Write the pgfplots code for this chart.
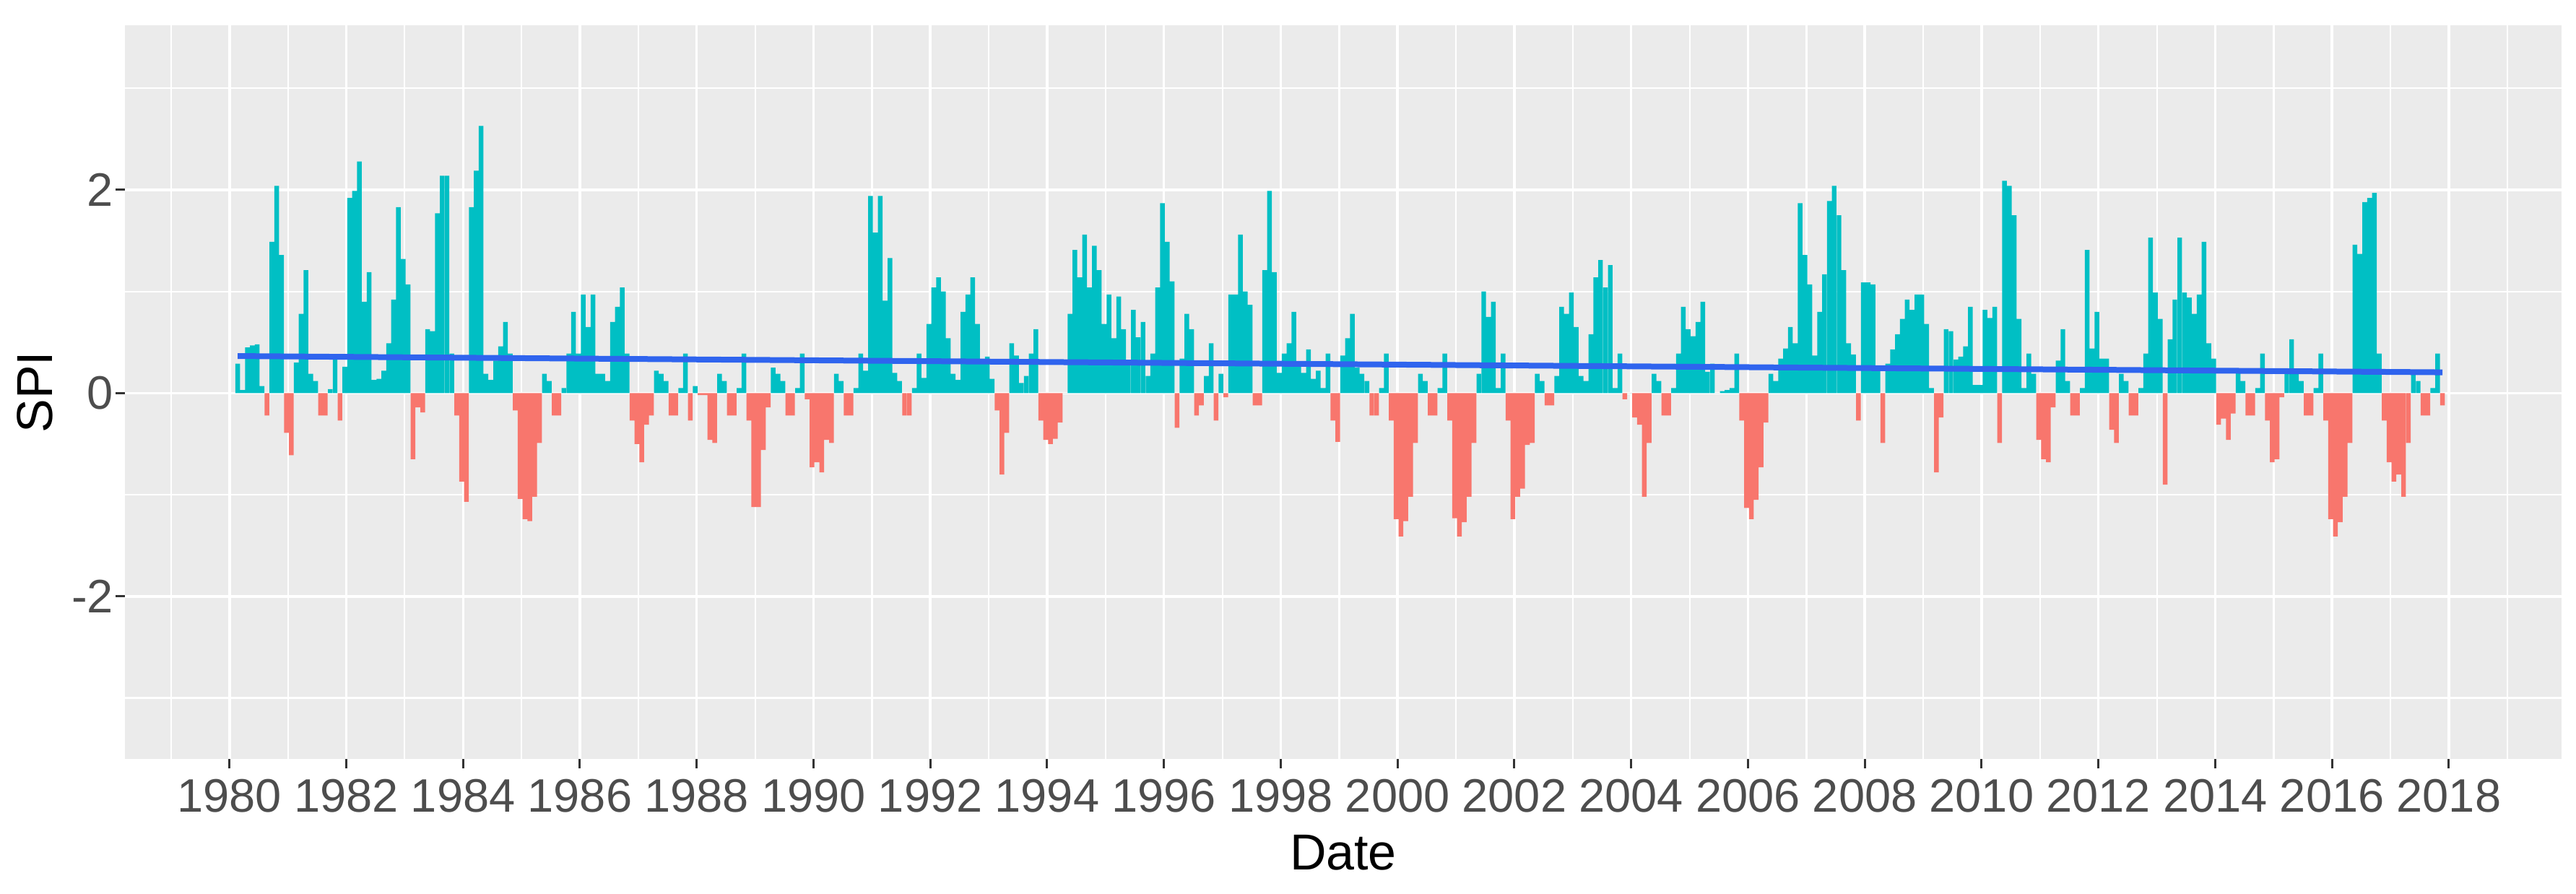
\documentclass[border=0pt]{standalone}
\usepackage{fontspec}
\setmainfont{Liberation Sans}
\usepackage{pgfplots}
\usepackage{pgfplotstable}
\pgfplotsset{compat=1.18}

\definecolor{ggpanel}{HTML}{EBEBEB}
\definecolor{ggpos}{HTML}{00BFC4}
\definecolor{ggneg}{HTML}{F8766D}
\definecolor{ggline}{HTML}{2F64EE}
\definecolor{ggtext}{HTML}{4D4D4D}
\definecolor{ggtick}{HTML}{333333}

% monthly SPI, first value = March 1980, one year of months per line
\pgfplotstableread[row sep=\\]{
spi\\
0.29\\ 0.03\\ 0.45\\ 0.47\\ 0.48\\ 0.07\\ -0.22\\ 1.49\\ 2.04\\ 1.36\\ -0.39\\ -0.61\\
0.30\\ 0.78\\ 1.21\\ 0.19\\ 0.12\\ -0.22\\ -0.22\\ 0.04\\ 0.34\\ -0.27\\ 0.26\\ 1.92\\
1.99\\ 2.28\\ 0.90\\ 1.19\\ 0.13\\ 0.14\\ 0.22\\ 0.49\\ 0.92\\ 1.83\\ 1.32\\ 1.07\\
-0.65\\ -0.14\\ -0.19\\ 0.63\\ 0.61\\ 1.77\\ 2.14\\ 2.14\\ 0.39\\ -0.22\\ -0.87\\ -1.07\\
1.83\\ 2.19\\ 2.63\\ 0.19\\ 0.13\\ 0.32\\ 0.46\\ 0.70\\ 0.39\\ -0.17\\ -1.04\\ -1.24\\
-1.26\\ -1.02\\ -0.49\\ 0.19\\ 0.12\\ -0.22\\ -0.22\\ 0.05\\ 0.39\\ 0.80\\ 0.39\\ 0.97\\
0.65\\ 0.97\\ 0.19\\ 0.19\\ 0.12\\ 0.70\\ 0.85\\ 1.04\\ 0.39\\ -0.27\\ -0.50\\ -0.68\\
-0.31\\ -0.22\\ 0.22\\ 0.19\\ 0.12\\ -0.22\\ -0.22\\ 0.05\\ 0.39\\ -0.27\\ 0.07\\ -0.02\\
-0.02\\ -0.46\\ -0.49\\ 0.19\\ 0.12\\ -0.22\\ -0.22\\ 0.05\\ 0.39\\ -0.27\\ -1.12\\ -1.12\\
-0.56\\ -0.14\\ 0.25\\ 0.19\\ 0.12\\ -0.22\\ -0.22\\ 0.05\\ 0.39\\ -0.06\\ -0.73\\ -0.68\\
-0.78\\ -0.46\\ -0.49\\ 0.19\\ 0.12\\ -0.22\\ -0.22\\ 0.05\\ 0.39\\ 0.22\\ 1.94\\ 1.58\\
1.94\\ 0.91\\ 1.33\\ 0.20\\ 0.12\\ -0.22\\ -0.22\\ 0.05\\ 0.39\\ 0.15\\ 0.68\\ 1.04\\
1.14\\ 1.00\\ 0.54\\ 0.19\\ 0.13\\ 0.80\\ 0.97\\ 1.14\\ 0.68\\ 0.33\\ 0.36\\ 0.14\\
-0.17\\ -0.80\\ -0.39\\ 0.49\\ 0.37\\ 0.10\\ 0.17\\ 0.39\\ 0.63\\ -0.27\\ -0.46\\ -0.50\\
-0.45\\ -0.29\\ 0.00\\ 0.78\\ 1.41\\ 1.14\\ 1.56\\ 1.04\\ 1.45\\ 1.21\\ 0.68\\ 0.97\\
0.54\\ 0.95\\ 0.63\\ 0.30\\ 0.82\\ 0.55\\ 0.70\\ 0.17\\ 0.39\\ 1.04\\ 1.87\\ 1.49\\
1.10\\ -0.34\\ 0.34\\ 0.78\\ 0.63\\ -0.22\\ -0.12\\ 0.17\\ 0.49\\ -0.27\\ 0.19\\ -0.04\\
0.97\\ 0.97\\ 1.56\\ 1.00\\ 0.87\\ -0.12\\ -0.12\\ 1.21\\ 1.99\\ 1.19\\ 0.20\\ 0.39\\
0.49\\ 0.80\\ 0.29\\ 0.20\\ 0.43\\ 0.14\\ 0.22\\ 0.05\\ 0.39\\ -0.27\\ -0.48\\ 0.37\\
0.54\\ 0.78\\ 0.25\\ 0.19\\ 0.12\\ -0.22\\ -0.22\\ 0.05\\ 0.39\\ -0.27\\ -1.24\\ -1.41\\
-1.26\\ -1.02\\ -0.49\\ 0.19\\ 0.12\\ -0.22\\ -0.22\\ 0.05\\ 0.39\\ -0.27\\ -1.23\\ -1.41\\
-1.27\\ -1.02\\ -0.49\\ 0.19\\ 1.00\\ 0.75\\ 0.90\\ 0.05\\ 0.39\\ -0.27\\ -1.24\\ -1.02\\
-0.94\\ -0.51\\ -0.49\\ 0.19\\ 0.12\\ -0.12\\ -0.12\\ 0.17\\ 0.85\\ 0.78\\ 0.99\\ 0.65\\
0.17\\ 0.12\\ 0.58\\ 1.14\\ 1.31\\ 1.04\\ 1.26\\ 0.05\\ 0.39\\ -0.06\\ 0.00\\ -0.24\\
-0.31\\ -1.02\\ -0.49\\ 0.19\\ 0.12\\ -0.22\\ -0.22\\ 0.05\\ 0.39\\ 0.85\\ 0.63\\ 0.56\\
0.70\\ 0.90\\ 0.21\\ 0.29\\ 0.00\\ 0.02\\ 0.03\\ 0.05\\ 0.39\\ -0.27\\ -1.13\\ -1.24\\
-1.05\\ -0.73\\ -0.29\\ 0.19\\ 0.12\\ 0.34\\ 0.44\\ 0.65\\ 0.49\\ 1.87\\ 1.36\\ 1.07\\
0.37\\ 0.80\\ 1.17\\ 1.89\\ 2.04\\ 1.75\\ 1.21\\ 0.49\\ 0.38\\ -0.27\\ 1.09\\ 1.09\\
1.07\\ 0.25\\ -0.49\\ 0.29\\ 0.43\\ 0.58\\ 0.73\\ 0.92\\ 0.82\\ 0.97\\ 0.97\\ 0.68\\
0.05\\ -0.78\\ -0.24\\ 0.63\\ 0.61\\ 0.33\\ 0.36\\ 0.46\\ 0.85\\ 0.08\\ 0.08\\ 0.82\\
0.74\\ 0.85\\ -0.49\\ 2.09\\ 2.04\\ 1.75\\ 0.73\\ 0.05\\ 0.39\\ 0.19\\ -0.46\\ -0.65\\
-0.68\\ -0.14\\ 0.32\\ 0.63\\ 0.12\\ -0.22\\ -0.22\\ 0.05\\ 1.41\\ 0.44\\ 0.80\\ 0.34\\
0.34\\ -0.36\\ -0.49\\ 0.19\\ 0.12\\ -0.22\\ -0.22\\ 0.05\\ 0.39\\ 1.53\\ 0.99\\ 0.73\\
-0.90\\ 0.53\\ 0.92\\ 1.53\\ 0.99\\ 0.94\\ 0.78\\ 0.97\\ 1.49\\ 0.49\\ 0.34\\ -0.31\\
-0.25\\ -0.46\\ -0.20\\ 0.20\\ 0.12\\ -0.22\\ -0.22\\ 0.05\\ 0.39\\ -0.27\\ -0.68\\ -0.65\\
-0.04\\ 0.20\\ 0.53\\ 0.20\\ 0.12\\ -0.22\\ -0.22\\ 0.05\\ 0.39\\ -0.27\\ -1.24\\ -1.41\\
-1.27\\ -1.02\\ -0.49\\ 1.46\\ 1.37\\ 1.88\\ 1.92\\ 1.97\\ 0.39\\ -0.27\\ -0.68\\ -0.87\\
-0.80\\ -1.02\\ -0.49\\ 0.19\\ 0.12\\ -0.22\\ -0.22\\ 0.05\\ 0.39\\ -0.12\\
}\spitable

\begin{document}
\begin{tikzpicture}
\useasboundingbox (0,0) rectangle (356.7pt,123.7pt);
\begin{axis}[
    at={(17.3pt,18.6pt)}, anchor=south west,
    width=337.4pt, height=101.6pt, scale only axis,
    xmin=1978.21, xmax=2019.93, ymin=-3.6, ymax=3.62,
    axis background/.style={fill=ggpanel},
    axis line style={draw=none},
    xtick={1980,1982,...,2018},
    xticklabels={1980,1982,1984,1986,1988,1990,1992,1994,1996,1998,2000,2002,2004,2006,2008,2010,2012,2014,2016,2018},
    minor xtick={1979,1981,...,2019},
    ytick={-2,0,2}, yticklabels={-2,0,2},
    minor ytick={-3,-1,1,3},
    grid=both,
    major grid style={white, line width=0.35pt},
    minor grid style={white, line width=0.22pt},
    tick align=outside, xtick pos=left, ytick pos=left,
    major tick length=1.3pt, minor tick length=0pt,
    tick style={ggtick, line width=0.3pt},
    tick label style={font=\fontsize{6.5}{7}\selectfont, text=ggtext, inner sep=0pt},
    xticklabel style={anchor=north, yshift=-1.3pt},
    yticklabel style={anchor=east, xshift=-0.1pt},
    xlabel={Date}, ylabel={SPI},
    every axis x label/.style={at={(axis description cs:0.5,-0.128)}, anchor=center, font=\fontsize{7}{8}\selectfont},
    every axis y label/.style={at={(axis description cs:-0.037,0.5)}, rotate=90, anchor=center, font=\fontsize{7}{8}\selectfont},
]
\addplot[ybar, bar width=0.08, bar shift=0pt, fill=ggpos, draw=none, restrict y to domain=0:10]
    table[x expr={1980+(\coordindex+1.7)/12}, y=spi]{\spitable};
\addplot[ybar, bar width=0.08, bar shift=0pt, fill=ggneg, draw=none, restrict y to domain=-10:0]
    table[x expr={1980+(\coordindex+1.7)/12}, y=spi]{\spitable};
\addplot[ggline, line width=0.8pt] coordinates {(1980.14,0.365) (2017.89,0.205)};
\end{axis}
\end{tikzpicture}
\end{document}
